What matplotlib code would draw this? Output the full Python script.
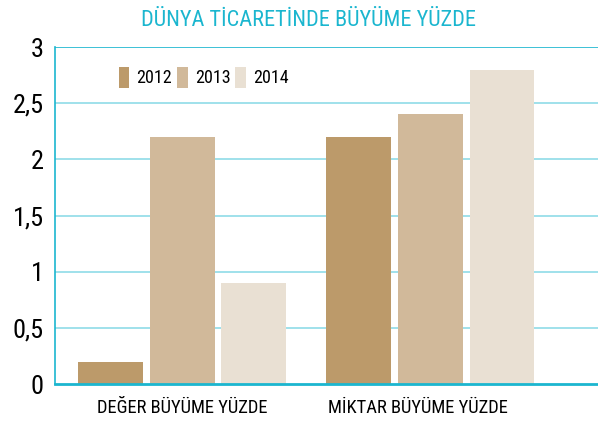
import matplotlib
matplotlib.use("Agg")
import matplotlib.pyplot as plt
import numpy as np
from matplotlib import font_manager

categories = ["DEĞER BÜYÜME YÜZDE", "MİKTAR BÜYÜME YÜZDE"]
years = ["2012", "2013", "2014"]
v2012 = [0.2, 2.2]
v2013 = [2.2, 2.4]
v2014 = [0.9, 2.8]
yticks = [0, 0.5, 1, 1.5, 2, 2.5, 3]
ytick_labels = ["0", "0,5", "1", "1,5", "2", "2,5", "3"]

avail = {f.name for f in font_manager.fontManager.ttflist}
fam = "DejaVu Sans"
for c in ["Liberation Sans Narrow", "Roboto Condensed", "Open Sans Condensed", "Roboto", "Liberation Sans"]:
    if c in avail:
        fam = c
        break
plt.rcParams["font.family"] = [fam, "DejaVu Sans"]

colors = ["#BC9A6A", "#D1B99A", "#E9E0D3"]
cyan = "#1BB6CF"
grid = "#8FDBE8"

fig = plt.figure(figsize=(5.98, 4.24), dpi=100)
ax = fig.add_axes([0.092, 0.094, 0.908, 0.795])

x = np.arange(len(categories))
w = 0.262
step = 0.29
for i, (vals, yr) in enumerate(zip([v2012, v2013, v2014], years)):
    ax.bar(x + (i - 1) * step, vals, width=w, color=colors[i], label=yr, zorder=3)

ax.set_xlim(-0.512, 1.677)
ax.set_ylim(0, 3)
ax.set_yticks(yticks)
ax.set_yticklabels(ytick_labels, fontsize=19)
label_shift = np.array([0.0, -0.048])
ax.set_xticks(x + label_shift)
ax.set_xticklabels(categories, fontsize=13.3)
ax.tick_params(axis="both", length=0, pad=8)
ax.tick_params(axis="x", pad=11)
for t in yticks[1:]:
    ax.axhline(t, color=grid if t < 3 else cyan, lw=1.2, zorder=1)
for s in ["top", "right"]:
    ax.spines[s].set_visible(False)
ax.spines["left"].set_color(cyan)
ax.spines["left"].set_linewidth(1.2)
ax.spines["bottom"].set_color(cyan)
ax.spines["bottom"].set_linewidth(2)
ax.spines["bottom"].set_zorder(4)

leg = ax.legend(loc="upper left", bbox_to_anchor=(0.087, 0.99), ncol=3, frameon=False,
                fontsize=13, handlelength=0.6, handleheight=1.4, columnspacing=0.25,
                handletextpad=0.4)

fig.text(0.516, 0.951, "DÜNYA TİCARETİNDE BÜYÜME YÜZDE", color=cyan, fontsize=16,
         ha="center", va="center")

fig.savefig("out.png", dpi=100)
